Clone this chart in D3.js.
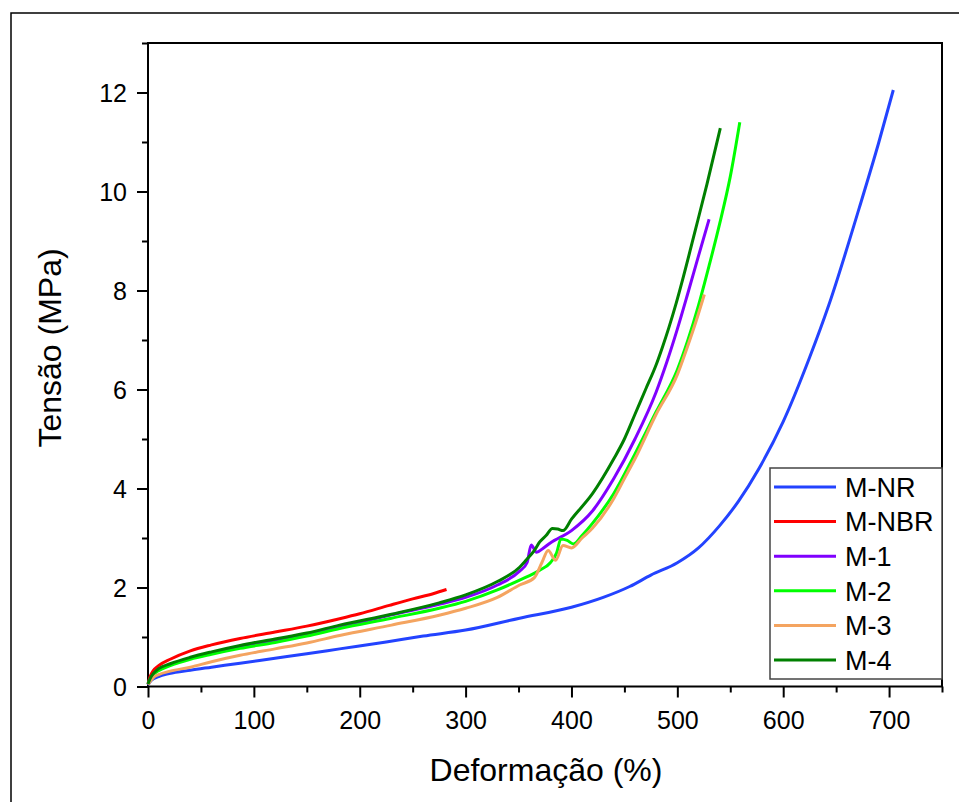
<!DOCTYPE html>
<html>
<head>
<meta charset="utf-8">
<script src="https://cdn.jsdelivr.net/npm/d3@7"></script>
<style>
  body { margin: 0; background: #fff; }
  svg { display: block; font-family: "Liberation Sans", Arial, sans-serif; }
</style>
</head>
<body>
<div id="chart"></div>
<script>
// Data (strain %, stress MPa)
const seriesNames = ["M-NR", "M-NBR", "M-1", "M-2", "M-3", "M-4"];
const seriesColors = ["#2343ff", "#ff0000", "#8000ff", "#00ff00", "#f4a460", "#008000"];

const mNR = [[0,0.03],[3,0.12],[10,0.2],[20,0.26],[40,0.33],[60,0.39],[87,0.47],[120,0.57],[150,0.66],[181,0.76],[225,0.9],[260,1.02],[300,1.14],[351,1.38],[400,1.6],[430,1.8],[455,2.02],[475,2.25],[500,2.5],[520,2.8],[540,3.25],[558,3.75],[577,4.4],[600,5.35],[625,6.65],[643,7.7],[672,9.68],[690,10.97],[704,12.05]];
const mNBR = [[0,0.05],[2,0.2],[5,0.32],[10,0.42],[21,0.55],[40,0.72],[60,0.84],[87,0.97],[120,1.1],[150,1.22],[181,1.37],[200,1.47],[228,1.64],[250,1.77],[270,1.88],[282,1.96]];
const m1 = [[0,0.05],[2,0.15],[5,0.25],[10,0.34],[21,0.44],[40,0.57],[60,0.68],[87,0.8],[120,0.93],[150,1.05],[181,1.2],[230,1.45],[275,1.66],[300,1.8],[330,2.05],[351,2.33],[358,2.5],[362,2.86],[367,2.71],[373,2.79],[380,2.9],[400,3.15],[420,3.55],[440,4.2],[460,5.0],[480,5.95],[490,6.55],[500,7.22],[510,7.95],[520,8.7],[530,9.44]];
const m2 = [[0,0.05],[2,0.14],[5,0.24],[10,0.32],[21,0.42],[40,0.55],[60,0.65],[87,0.77],[120,0.89],[150,1.02],[181,1.17],[230,1.38],[275,1.58],[300,1.72],[330,1.95],[351,2.15],[370,2.35],[380,2.5],[386,2.7],[390,2.98],[396,2.95],[402,2.88],[410,3.05],[420,3.3],[440,3.9],[460,4.7],[480,5.55],[500,6.4],[510,7.0],[520,7.7],[530,8.5],[540,9.35],[550,10.3],[559,11.4]];
const m3 = [[0,0.04],[2,0.1],[5,0.18],[10,0.24],[21,0.31],[40,0.39],[60,0.5],[87,0.63],[120,0.76],[150,0.88],[181,1.03],[230,1.24],[275,1.44],[300,1.58],[330,1.8],[351,2.05],[365,2.2],[372,2.5],[378,2.75],[385,2.55],[392,2.85],[400,2.8],[410,3.0],[420,3.2],[440,3.8],[450,4.2],[460,4.6],[480,5.5],[500,6.3],[509,6.83],[518,7.4],[525.5,7.92]];
const m4 = [[0,0.05],[2,0.16],[5,0.26],[10,0.36],[21,0.46],[40,0.59],[60,0.7],[87,0.83],[120,0.96],[150,1.08],[181,1.24],[230,1.46],[275,1.69],[300,1.85],[330,2.12],[351,2.41],[357,2.55],[365,2.75],[370,2.92],[376,3.05],[382,3.19],[387,3.18],[392,3.15],[400,3.38],[420,3.9],[440,4.6],[450,5.0],[460,5.5],[470,6.0],[480,6.5],[486,6.86],[492,7.25],[499,7.75],[505,8.22],[517,9.22],[528,10.15],[540.6,11.28]];

const xMajorTicks = [0, 100, 200, 300, 400, 500, 600, 700];
const xMinorTicks = [50, 150, 250, 350, 450, 550, 650, 750];
const yMajorTicks = [0, 2, 4, 6, 8, 10, 12];
const yMinorTicks = [1, 3, 5, 7, 9, 11, 13];

const xTitle = "Deformação (%)";
const yTitle = "Tensão (MPa)";

// Dimensions
const dimensions = {
  width: 959,
  height: 802,
  left: 148,
  right: 942,
  top: 43,
  bottom: 686.5,
};

const svg = d3
  .select("#chart")
  .append("svg")
  .attr("width", dimensions.width)
  .attr("height", dimensions.height);

// outer frame (runs off the right and bottom edge)
svg
  .append("rect")
  .attr("x", 11)
  .attr("y", 13)
  .attr("width", 980)
  .attr("height", 820)
  .attr("fill", "white")
  .attr("stroke", "black")
  .attr("stroke-width", 1.5);

const xScale = d3.scaleLinear().domain([0, 750]).range([dimensions.left, dimensions.right]);
const yScale = d3.scaleLinear().domain([0, 13]).range([dimensions.bottom, dimensions.top]);

// Axes
const xAxisGroup = svg.append("g").attr("transform", `translate(0, ${dimensions.bottom})`);
xAxisGroup.call(d3.axisBottom(xScale).tickValues(xMajorTicks).tickSize(11).tickSizeOuter(0));
xAxisGroup.append("g").call(
  d3.axisBottom(xScale).tickValues(xMinorTicks).tickSize(6).tickSizeOuter(0).tickFormat("")
);

const yAxisGroup = svg.append("g").attr("transform", `translate(${dimensions.left}, 0)`);
yAxisGroup.call(d3.axisLeft(yScale).tickValues(yMajorTicks).tickSize(11).tickSizeOuter(0));
yAxisGroup.append("g").call(
  d3.axisLeft(yScale).tickValues(yMinorTicks).tickSize(6).tickSizeOuter(0).tickFormat("")
);

svg.selectAll(".domain").remove();
svg.selectAll(".tick line").attr("stroke", "black").attr("stroke-width", 2);
xAxisGroup
  .selectAll("text")
  .attr("y", 42)
  .attr("dy", 0)
  .attr("font-size", 25)
  .attr("font-family", "Liberation Sans, Arial, sans-serif")
  .attr("fill", "black");
yAxisGroup
  .selectAll("text")
  .attr("x", -21)
  .attr("dy", "0.36em")
  .attr("font-size", 25)
  .attr("font-family", "Liberation Sans, Arial, sans-serif")
  .attr("fill", "black");

// plot frame
svg
  .append("rect")
  .attr("x", dimensions.left)
  .attr("y", dimensions.top)
  .attr("width", dimensions.right - dimensions.left)
  .attr("height", dimensions.bottom - dimensions.top)
  .attr("fill", "none")
  .attr("stroke", "black")
  .attr("stroke-width", 2);

// Lines
const allSeries = [mNR, mNBR, m1, m2, m3, m4];
const lineGenerator = d3
  .line()
  .x((d) => xScale(d[0]))
  .y((d) => yScale(d[1]))
  .curve(d3.curveMonotoneX);

svg
  .append("g")
  .selectAll("path")
  .data(allSeries)
  .join("path")
  .attr("d", lineGenerator)
  .attr("fill", "none")
  .attr("stroke", (d, i) => seriesColors[i])
  .attr("stroke-width", 3)
  .attr("stroke-linejoin", "round");

// Legend
const legend = svg.append("g");
legend
  .append("rect")
  .attr("x", 770)
  .attr("y", 468)
  .attr("width", 172)
  .attr("height", 211)
  .attr("fill", "white")
  .attr("stroke", "#444")
  .attr("stroke-width", 1.5);

const rows = legend
  .selectAll("g.row")
  .data(seriesNames)
  .join("g")
  .attr("class", "row")
  .attr("transform", (d, i) => `translate(0, ${487 + i * 34.6})`);

rows
  .append("line")
  .attr("x1", 774)
  .attr("x2", 836)
  .attr("stroke", (d, i) => seriesColors[i])
  .attr("stroke-width", 3);

rows
  .append("text")
  .attr("x", 845)
  .attr("dy", "0.36em")
  .attr("font-size", 27)
  .text((d) => d);

// Axis titles
svg
  .append("text")
  .attr("x", 546)
  .attr("y", 781)
  .attr("text-anchor", "middle")
  .attr("font-size", 32)
  .text(xTitle);

svg
  .append("text")
  .attr("transform", "translate(61, 348) rotate(-90)")
  .attr("text-anchor", "middle")
  .attr("font-size", 32)
  .text(yTitle);
</script>
</body>
</html>
